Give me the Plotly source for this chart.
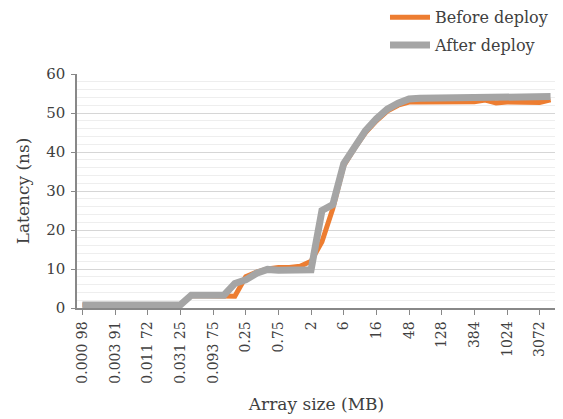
import plotly.graph_objects as go

# Array sizes (MB) as categories
categories = [
    "0.000 98", "0.001 95", "0.002 93", "0.003 91", "0.005 86", "0.007 81",
    "0.011 72", "0.015 63", "0.023 44", "0.031 25", "0.046 88", "0.062 5",
    "0.093 75", "0.125", "0.187 5", "0.25", "0.375", "0.5", "0.75", "1",
    "1.5", "2", "3", "4", "6", "8", "12", "16", "24", "32", "48", "64",
    "96", "128", "192", "256", "384", "512", "768", "1024", "1536", "2048",
    "3072", "4096",
]
tick_labels = [
    "0.000 98", "0.003 91", "0.011 72", "0.031 25", "0.093 75", "0.25",
    "0.75", "2", "6", "16", "48", "128", "384", "1024", "3072",
]

before_deploy = [
    0.8, 0.8, 0.8, 0.8, 0.8, 0.8, 0.8, 0.8, 0.8, 0.8,
    3.2, 3.2, 3.2, 3.1, 3.0, 8.0, 9.2, 10.0, 10.4, 10.4,
    10.7, 12.0, 17.0, 25.5, 36.5, 41.0, 45.0, 48.0, 50.5, 52.0,
    52.8, 52.8, 52.8, 52.8, 52.8, 52.8, 52.9, 53.3, 52.6, 52.8,
    52.8, 52.6, 52.7, 53.4,
]
after_deploy = [
    0.8, 0.8, 0.8, 0.8, 0.8, 0.8, 0.8, 0.8, 0.8, 0.8,
    3.3, 3.3, 3.3, 3.3, 6.3, 7.2, 8.9, 9.9, 9.7, 9.7,
    9.7, 9.8, 25.0, 26.5, 37.0, 41.5, 45.5, 48.5, 51.0, 52.5,
    53.6, 53.8, 53.8, 53.8, 53.8, 53.8, 53.8, 53.8, 53.8, 53.8,
    53.8, 53.8, 53.9, 54.2,
]

FONT = "DejaVu Serif"
TXT = "#404040"

fig = go.Figure()
fig.add_trace(go.Scatter(
    x=categories, y=before_deploy, mode="lines", name="Before deploy",
    line=dict(color="#ED7D31", width=5), legendgroup="a",
))
fig.add_trace(go.Scatter(
    x=categories, y=after_deploy, mode="lines", name="After deploy",
    line=dict(color="#A5A5A5", width=7), legendgroup="b",
))

fig.update_layout(
    width=555, height=411,
    margin=dict(l=69, r=7, t=66, b=111, autoexpand=False),
    paper_bgcolor="white", plot_bgcolor="white",
    font=dict(family=FONT, color=TXT, size=15),
    showlegend=True,
    legend=dict(
        x=0.643, y=1.315, xanchor="left", yanchor="top",
        font=dict(family=FONT, size=16, color=TXT),
        bgcolor="rgba(0,0,0,0)", traceorder="grouped", tracegroupgap=4,
        itemwidth=40,
    ),
    xaxis=dict(
        type="category", categoryorder="array", categoryarray=categories,
        range=[-0.5, 43.5], automargin=False,
        tickmode="array", tickvals=tick_labels, ticktext=tick_labels,
        tickangle=-90, tickfont=dict(family=FONT, size=14, color=TXT),
        ticks="outside", ticklen=5, tickcolor="#888888", ticklabelstandoff=1,
        showline=True, linecolor="#888888", linewidth=1.5,
        showgrid=False, zeroline=False,
        title=dict(text="Array size (MB)", font=dict(family=FONT, size=17, color=TXT), standoff=15),
    ),
    yaxis=dict(
        range=[0, 60], dtick=10, tick0=0, automargin=False,
        tickfont=dict(family=FONT, size=15, color=TXT),
        ticks="outside", ticklen=4, tickcolor="#888888", ticklabelstandoff=3,
        showline=True, linecolor="#888888", linewidth=1.5,
        showgrid=True, gridcolor="#d6d6d6", gridwidth=1.2,
        zeroline=False,
        minor=dict(dtick=2, showgrid=True, gridcolor="#eeeeee", gridwidth=1),
        title=dict(text="Latency (ns)", font=dict(family=FONT, size=17, color=TXT), standoff=12),
    ),
)

fig.write_html("out.html")
